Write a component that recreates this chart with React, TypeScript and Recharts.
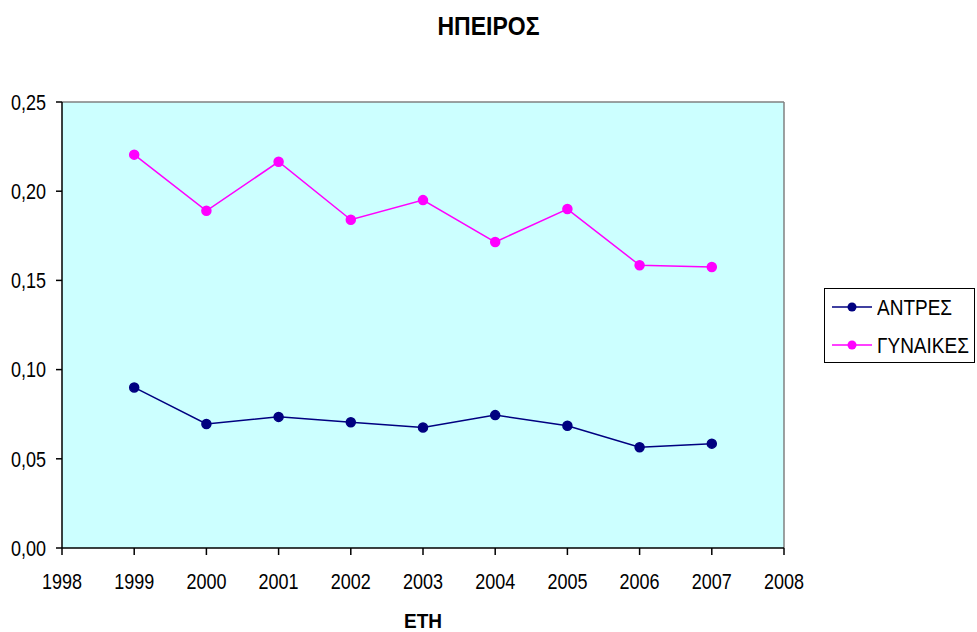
import { LineChart, Line, XAxis, YAxis, CartesianGrid, ReferenceLine } from 'recharts';

const years = [1999, 2000, 2001, 2002, 2003, 2004, 2005, 2006, 2007];
const men = [0.09, 0.0695, 0.0735, 0.0705, 0.0675, 0.0745, 0.0685, 0.0565, 0.0585];
const women = [0.2205, 0.189, 0.2165, 0.184, 0.195, 0.1715, 0.19, 0.1585, 0.1575];
const xTicks = [1998, 1999, 2000, 2001, 2002, 2003, 2004, 2005, 2006, 2007, 2008];
const yTicks = [0, 0.05, 0.1, 0.15, 0.2, 0.25];

const data = years.map((year, i) => ({ year, men: men[i], women: women[i] }));

const font = '"Liberation Sans", Arial, sans-serif';
// the reference text is drawn a little taller than it is wide
const stretch = 1.2;

const series = [
  { key: 'men', name: 'ΑΝΤΡΕΣ', color: '#000080' },
  { key: 'women', name: 'ΓΥΝΑΙΚΕΣ', color: '#ff00ff' },
];

const fmt = (v: number) => v.toFixed(2).replace('.', ',');

function XTick({ x, y, payload }: any) {
  return (
    <g transform={`translate(${x},${y})`}>
      <text transform={`scale(1,${stretch})`} textAnchor="middle" dy="0.72em" fontSize={18} fontFamily={font} fill="#000">
        {payload.value}
      </text>
    </g>
  );
}

function YTick({ x, y, payload }: any) {
  return (
    <g transform={`translate(${x},${y})`}>
      <text transform={`scale(1,${stretch})`} textAnchor="end" dy="0.36em" fontSize={18} fontFamily={font} fill="#000">
        {fmt(payload.value)}
      </text>
    </g>
  );
}

function LegendBox() {
  const centers = [307, 345];
  return (
    <div
      style={{
        position: 'absolute',
        left: 824,
        top: 288,
        width: 151,
        height: 75,
        boxSizing: 'border-box',
        border: '1px solid #000',
        background: '#fff',
        fontFamily: font,
        fontSize: 19,
      }}
    >
      {series.map((it, i) => (
        <div
          key={it.name}
          style={{ position: 'absolute', left: 7, top: centers[i] - 289 - 10, height: 20, display: 'flex', alignItems: 'center' }}
        >
          <svg width={40} height={12} style={{ display: 'block' }}>
            <line x1={0} y1={6} x2={40} y2={6} stroke={it.color} strokeWidth={1.5} />
            <circle cx={20} cy={6} r={4.5} fill={it.color} />
          </svg>
          <span style={{ marginLeft: 5, lineHeight: '19px', whiteSpace: 'nowrap', display: 'inline-block', transform: 'scaleY(1.17)' }}>
            {it.name}
          </span>
        </div>
      ))}
    </div>
  );
}

export default function App() {
  return (
    <div style={{ position: 'absolute', left: 0, top: 0, width: 977, height: 632, background: '#fff', fontFamily: font }}>
      <div
        style={{
          position: 'absolute',
          left: 0,
          width: 977,
          top: 15,
          lineHeight: '23px',
          textAlign: 'center',
          fontWeight: 'bold',
          fontSize: 23,
          transform: 'scaleY(1.15)',
        }}
      >
        ΗΠΕΙΡΟΣ
      </div>
      <div
        style={{
          position: 'absolute',
          left: 62,
          width: 722,
          top: 613,
          height: 17,
          lineHeight: '17px',
          textAlign: 'center',
          fontWeight: 'bold',
          fontSize: 19,
          transform: 'scaleY(1.05)',
        }}
      >
        ΕΤΗ
      </div>
      <LineChart width={977} height={632} data={data} margin={{ top: 102, right: 193, bottom: 44, left: 0 }}>
        <CartesianGrid horizontal={false} vertical={false} fill="#ccffff" />
        <ReferenceLine y={0.25} stroke="#808080" strokeWidth={1.5} />
        <ReferenceLine x={2008} stroke="#808080" strokeWidth={1.5} />
        <XAxis
          dataKey="year"
          type="number"
          domain={[1998, 2008]}
          ticks={xTicks}
          height={40}
          tickSize={7}
          tickMargin={18}
          stroke="#000"
          strokeWidth={1.5}
          tick={<XTick />}
        />
        <YAxis
          type="number"
          domain={[0, 0.25]}
          ticks={yTicks}
          width={62}
          tickSize={6}
          tickMargin={10}
          stroke="#000"
          strokeWidth={1.5}
          tick={<YTick />}
        />
        {series.map((s) => (
          <Line
            key={s.key}
            dataKey={s.key}
            name={s.name}
            stroke={s.color}
            strokeWidth={1.5}
            dot={{ r: 4.5, fill: s.color, stroke: s.color }}
            isAnimationActive={false}
          />
        ))}
      </LineChart>
      <LegendBox />
    </div>
  );
}
